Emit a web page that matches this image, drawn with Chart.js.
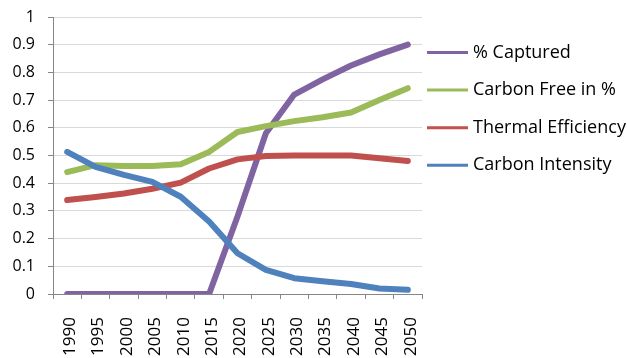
<!DOCTYPE html>
<html>
<head>
<meta charset="utf-8">
<script src="https://cdn.jsdelivr.net/npm/chart.js@4.4.0/dist/chart.umd.min.js"></script>
<style>
  html, body { margin: 0; padding: 0; background: #fff; }
  #wrap { width: 627px; height: 358px; position: relative; }
</style>
</head>
<body>
<div id="wrap"><canvas id="energyChart"></canvas></div>
<script>
// DATA
const years = ['1990', '1995', '2000', '2005', '2010', '2015', '2020', '2025', '2030', '2035', '2040', '2045', '2050'];
const captured = [0, 0, 0, 0, 0, 0, 0.28, 0.58, 0.72, 0.775, 0.825, 0.865, 0.9];
const carbonFree = [0.44, 0.465, 0.462, 0.462, 0.468, 0.513, 0.585, 0.606, 0.624, 0.638, 0.655, 0.7, 0.743];
const thermalEff = [0.339, 0.35, 0.363, 0.38, 0.402, 0.453, 0.486, 0.498, 0.5, 0.5, 0.5, 0.49, 0.48];
const carbonIntensity = [0.513, 0.459, 0.43, 0.405, 0.351, 0.262, 0.147, 0.087, 0.057, 0.046, 0.036, 0.02, 0.015];
const seriesNames = ['% Captured', 'Carbon Free in %', 'Thermal Efficiency', 'Carbon Intensity'];
const yTickLabels = ['0', '0.1', '0.2', '0.3', '0.4', '0.5', '0.6', '0.7', '0.8', '0.9', '1'];

const colors = ['#8064A2', '#9BBB59', '#C0504D', '#4F81BD'];
const FONT = '"Open Sans", sans-serif';

function lineSet(i, values) {
  return {
    label: seriesNames[i],
    data: values,
    borderColor: colors[i],
    backgroundColor: colors[i],
    borderWidth: 6,
    borderCapStyle: 'round',
    borderJoinStyle: 'round',
    pointRadius: 0,
    tension: 0,
    order: 3 - i   // last series drawn on top
  };
}

/* legend drawn on the canvas, right of the plot */
const sideLegend = {
  id: 'sideLegend',
  afterDraw(chart) {
    const ctx = chart.ctx;
    const x0 = 427, x1 = 468, tx = 473;
    const y0 = 52.5, step = 37.6;
    ctx.save();
    ctx.font = '18px ' + FONT;
    ctx.textBaseline = 'middle';
    ctx.textAlign = 'left';
    chart.data.datasets.forEach((ds, i) => {
      const y = y0 + i * step;
      ctx.strokeStyle = ds.borderColor;
      ctx.lineWidth = 3;
      ctx.beginPath();
      ctx.moveTo(x0, y);
      ctx.lineTo(x1, y);
      ctx.stroke();
      ctx.fillStyle = '#000';
      ctx.fillText(ds.label, tx, y);
    });
    ctx.restore();
  }
};

const config = {
  type: 'line',
  data: {
    labels: years,
    datasets: [
      lineSet(0, captured),
      lineSet(1, carbonFree),
      lineSet(2, thermalEff),
      lineSet(3, carbonIntensity)
    ]
  },
  options: {
    responsive: true,
    maintainAspectRatio: false,
    animation: false,
    layout: {
      padding: { left: 0, right: 205, top: 17, bottom: 0 }
    },
    scales: {
      x: {
        offset: true,
        afterFit: (scale) => { scale.height = 64; },
        grid: {
          display: true,
          drawOnChartArea: false,
          drawTicks: true,
          tickLength: 5,
          color: '#868686',
          offset: true
        },
        border: { color: '#868686', width: 1 },
        ticks: {
          autoSkip: false,
          minRotation: 90,
          maxRotation: 90,
          padding: 18,
          labelOffset: 3,
          color: '#000',
          font: { family: FONT, size: 17 }
        }
      },
      y: {
        min: 0,
        max: 1,
        afterFit: (scale) => { scale.width = 53; scale.paddingTop = 0; },
        grid: {
          color: '#D9D9D9',
          lineWidth: 1,
          drawTicks: true,
          tickLength: 5,
          tickColor: '#868686'
        },
        border: { color: '#868686', width: 1 },
        ticks: {
          stepSize: 0.1,
          padding: 13,
          color: '#000',
          font: { family: FONT, size: 16 },
          callback: (value, index) => yTickLabels[index]
        }
      }
    },
    plugins: {
      legend: { display: false },
      tooltip: { enabled: false }
    }
  },
  plugins: [sideLegend]
};

const energyChart = new Chart(document.getElementById('energyChart'), config);
</script>
</body>
</html>
